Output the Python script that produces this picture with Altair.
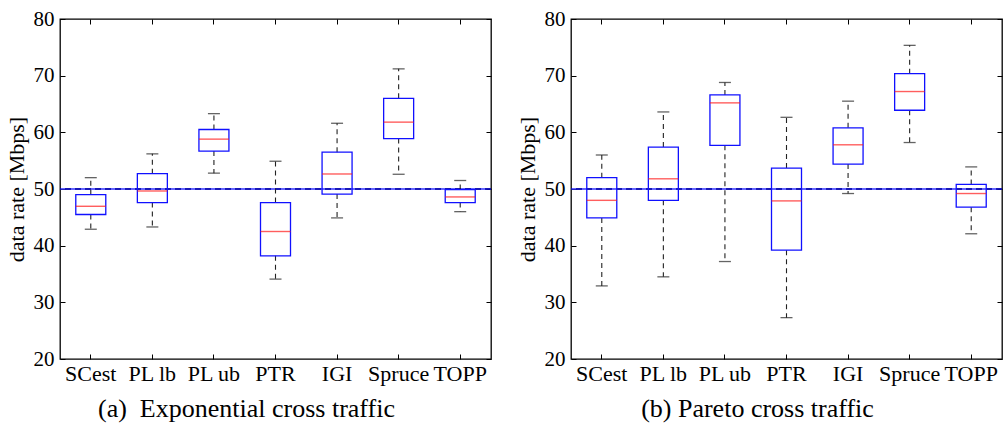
import altair as alt
import pandas as pd

categories = ["SCest", "PL lb", "PL ub", "PTR", "IGI", "Spruce", "TOPP"]

# (a) Exponential cross traffic
exp_low = [42.9, 43.3, 52.8, 34.1, 44.9, 52.6, 46.0]
exp_q1 = [45.5, 47.6, 56.7, 38.2, 49.1, 58.9, 47.6]
exp_med = [46.95, 49.65, 58.8, 42.5, 52.65, 61.8, 48.6]
exp_q3 = [49.0, 52.7, 60.5, 47.6, 56.5, 66.0, 49.9]
exp_high = [52.0, 56.2, 63.3, 54.9, 61.6, 71.2, 51.5]

# (b) Pareto cross traffic
par_low = [32.9, 34.5, 37.2, 27.3, 49.2, 58.2, 42.1]
par_q1 = [44.9, 48.0, 57.7, 39.2, 54.4, 63.9, 46.8]
par_med = [48.0, 51.8, 65.2, 47.9, 57.8, 67.2, 49.2]
par_q3 = [52.0, 57.4, 66.6, 53.7, 60.8, 70.35, 50.8]
par_high = [56.0, 63.6, 68.8, 62.65, 65.5, 75.35, 53.9]

ref_value = [50]
y_ticks = [20, 30, 40, 50, 60, 70, 80]
y_domain = [20, 80]

W, H = 431, 340
FONT = "Liberation Serif"


def panel(low, q1, med, q3, high, title, dx):
    df = pd.DataFrame({"cat": categories, "low": low, "q1": q1, "med": med,
                       "q3": q3, "high": high})
    xsc = alt.Scale(domain=categories, paddingInner=0, paddingOuter=0)
    ysc = alt.Scale(domain=y_domain, nice=False, zero=False)
    base = alt.Chart(df)

    main_x = alt.Axis(orient="bottom", title=None, labelAngle=0, ticks=False,
                      domain=False, grid=False, labelFont=FONT, labelFontSize=22,
                      labelColor="black", labelPadding=4)
    main_y = alt.Axis(orient="left", title="data rate [Mbps]", values=y_ticks,
                      ticks=False, domain=False, grid=False, labelFont=FONT,
                      labelFontSize=21, labelColor="black", labelPadding=6,
                      titleFont=FONT, titleFontSize=22, titleFontWeight="normal",
                      titleColor="black", titlePadding=5)
    top_ticks = alt.Axis(orient="bottom", offset=-H, labels=False, domain=False,
                         ticks=True, tickSize=5, tickColor="black", tickWidth=1,
                         grid=False, title=None)
    bottom_ticks = alt.Axis(orient="top", offset=-H, labels=False, domain=False,
                            ticks=True, tickSize=5, tickColor="black", tickWidth=1,
                            grid=False, title=None)
    left_ticks = alt.Axis(orient="right", offset=-W, labels=False, domain=False,
                          values=y_ticks, ticks=True, tickSize=5, tickColor="black",
                          tickWidth=1, grid=False, title=None)
    right_ticks = alt.Axis(orient="left", offset=-W, labels=False, domain=False,
                           values=y_ticks, ticks=True, tickSize=5, tickColor="black",
                           tickWidth=1, grid=False, title=None)

    xcat = lambda ax: alt.X("cat:N", scale=xsc, sort=categories, axis=ax)

    ref = alt.Chart(pd.DataFrame({"v": ref_value}))
    ref_solid = ref.mark_rule(color="#3030ff", strokeWidth=1.3).encode(
        y=alt.Y("v:Q", scale=ysc, axis=None))
    ref_dash = ref.mark_rule(color="#0000a0", strokeWidth=1.3,
                             strokeDash=[6, 4]).encode(
        y=alt.Y("v:Q", scale=ysc, axis=None))

    box = base.mark_bar(size=30, fillOpacity=0, stroke="#1010ff",
                        strokeWidth=1.3).encode(
        x=xcat(main_x), y=alt.Y("q1:Q", scale=ysc, axis=main_y), y2="q3:Q")
    upper = base.mark_rule(color="#222222", strokeWidth=1.1,
                           strokeDash=[5, 4]).encode(
        x=xcat(bottom_ticks), y=alt.Y("q3:Q", scale=ysc, axis=right_ticks),
        y2="high:Q")
    lower = base.mark_rule(color="#222222", strokeWidth=1.1,
                           strokeDash=[5, 4]).encode(
        x=xcat(None), y=alt.Y("q1:Q", scale=ysc, axis=None), y2="low:Q")
    cap_hi = base.mark_tick(size=12, thickness=1.3, color="#222222").encode(
        x=xcat(None), y=alt.Y("high:Q", scale=ysc, axis=None))
    cap_lo = base.mark_tick(size=12, thickness=1.3, color="#222222").encode(
        x=xcat(None), y=alt.Y("low:Q", scale=ysc, axis=None))
    median = base.mark_tick(size=30, thickness=1.4, color="#ff1a1a").encode(
        x=xcat(top_ticks), y=alt.Y("med:Q", scale=ysc, axis=left_ticks))

    return alt.layer(ref_solid, ref_dash, upper, lower, cap_hi, cap_lo, box,
                     median).resolve_axis(x="independent", y="independent").properties(
        width=W, height=H,
        title=alt.TitleParams(title, orient="bottom", font=FONT, fontSize=26,
                              fontWeight="normal", color="black", dx=dx,
                              offset=12))


left = panel(exp_low, exp_q1, exp_med, exp_q3, exp_high,
             "(a)\u00a0\u00a0Exponential cross traffic", -29)
right = panel(par_low, par_q1, par_med, par_q3, par_high,
              "(b) Pareto cross traffic", -29)

chart = alt.hconcat(left, right, spacing=80, bounds="flush").configure_view(
    stroke="black", strokeWidth=1.3).properties(
    padding={"left": 4, "top": 7, "right": 0, "bottom": 0},
    background="white")

chart.save("out.html", embed_options={"renderer": "svg", "actions": False})
